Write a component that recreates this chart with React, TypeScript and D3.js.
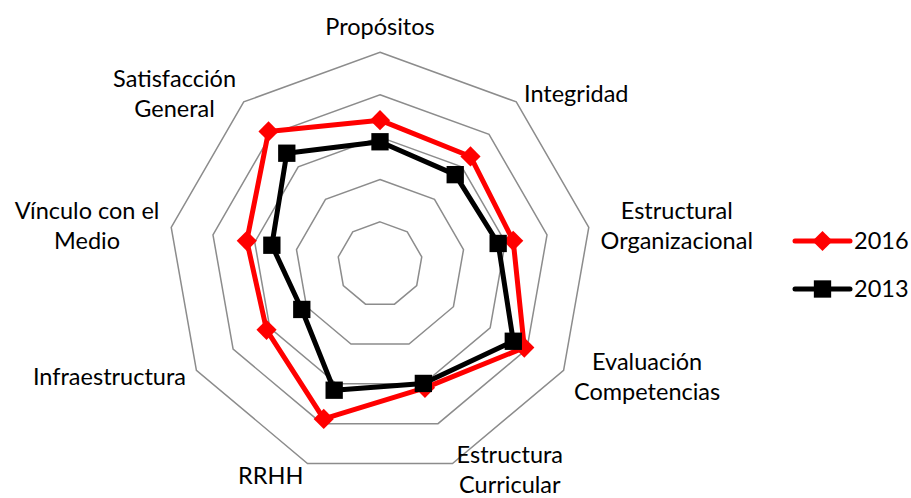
import * as d3 from "d3";
import { useEffect, useRef } from "react";

// axis names, clockwise from the top (\n splits label lines)
const axes = [
  "Propósitos",
  "Integridad",
  "Estructural\nOrganizacional",
  "Evaluación\nCompetencias",
  "Estructura\nCurricular",
  "RRHH",
  "Infraestructura",
  "Vínculo con el\nMedio",
  "Satisfacción\nGeneral",
];

const values2016 = [3.4, 3.32, 3.19, 3.93, 3.1, 3.88, 3.09, 3.19, 4.09];
const values2013 = [2.89, 2.76, 2.83, 3.63, 2.99, 3.16, 2.13, 2.59, 3.42];
const gridLevels = [1, 2, 3, 4, 5];

const series = [
  { name: "2016", values: values2016, color: "#ff0000", marker: "diamond" },
  { name: "2013", values: values2013, color: "#000000", marker: "square" },
];

const width = 911;
const height = 498;
const cx = 380;
const cy = 264.3;
const radius = 212;
const font = "Lato, 'Open Sans', sans-serif";
const fontSize = 23.5;

const RadarChart = () => {
  const ref = useRef(null);

  useEffect(() => {
    const svg = d3.select(ref.current);
    svg.selectAll("*").remove();

    const r = d3.scaleLinear().domain([0, 5]).range([0, radius]);
    const angle = (i) => (i * 2 * Math.PI) / axes.length;
    const point = (i, v) => [
      cx + r(v) * Math.sin(angle(i)),
      cy - r(v) * Math.cos(angle(i)),
    ];

    const g = svg.append("g");

    // grid polygons
    g.selectAll("path.grid")
      .data(gridLevels)
      .join("path")
      .attr("class", "grid")
      .attr(
        "d",
        (lv) => d3.line()(axes.map((_, i) => point(i, lv))) + "Z"
      )
      .attr("fill", "none")
      .attr("stroke", "#8c8c8c")
      .attr("stroke-width", 1.5);

    const diamond = d3.symbol().type(d3.symbolDiamond2).size(260);
    const square = d3.symbol().type(d3.symbolSquare).size(300);

    series.forEach((s) => {
      const pts = s.values.map((v, i) => point(i, v));
      g.append("path")
        .attr("d", d3.line()(pts) + "Z")
        .attr("fill", "none")
        .attr("stroke", s.color)
        .attr("stroke-width", 5)
        .attr("stroke-linejoin", "round");
      g.selectAll(null)
        .data(pts)
        .join("path")
        .attr("d", s.marker === "diamond" ? diamond() : square())
        .attr("transform", (d) => `translate(${d[0]},${d[1]})`)
        .attr("fill", s.color);
    });

    // axis labels
    const lineH = 30;
    axes.forEach((name, i) => {
      const lines = name.split("\n");
      const dx = Math.sin(angle(i));
      const dy = -Math.cos(angle(i));
      const px = cx + (radius + 12) * dx;
      const py = cy + (radius + 12) * dy;

      const lg = g.append("g");
      lines.forEach((ln, j) => {
        lg.append("text")
          .text(ln)
          .attr("x", 0)
          .attr("y", j * lineH)
          .attr("text-anchor", "middle")
          .attr("font-family", font)
          .attr("font-size", fontSize)
          .attr("fill", "#000");
      });
      const box = lg.node().getBBox();
      let tx;
      let ty;
      if (Math.abs(dx) < 0.1) {
        tx = px - (box.x + box.width / 2);
        ty = dy < 0 ? py - (box.y + box.height) : py - box.y;
      } else {
        tx = dx > 0 ? px - box.x : px - (box.x + box.width);
        ty = py - (box.y + box.height / 2);
      }
      // keep the bottom labels inside the frame
      const bottom = ty + box.y + box.height;
      if (bottom > height) ty -= bottom - height;
      lg.attr("transform", `translate(${tx},${ty})`);
    });

    // legend
    const legend = svg
      .append("g")
      .selectAll("g")
      .data(series)
      .join("g")
      .attr("transform", (d, i) => `translate(795,${241 + i * 48})`);
    legend
      .append("line")
      .attr("x1", 0)
      .attr("x2", 55)
      .attr("stroke", (d) => d.color)
      .attr("stroke-width", 5)
      .attr("stroke-linecap", "round");
    legend
      .append("path")
      .attr("d", (d) => (d.marker === "diamond" ? diamond() : square()))
      .attr("transform", "translate(27.5,0)")
      .attr("fill", (d) => d.color);
    legend
      .append("text")
      .text((d) => d.name)
      .attr("x", 59)
      .attr("dy", "0.36em")
      .attr("font-family", font)
      .attr("font-size", fontSize)
      .attr("fill", "#000");
  }, []);

  return (
    <svg
      ref={ref}
      width={width}
      height={height}
      style={{ display: "block", position: "absolute", left: 0, top: 0 }}
    />
  );
};

export default function App() {
  return <RadarChart />;
}
